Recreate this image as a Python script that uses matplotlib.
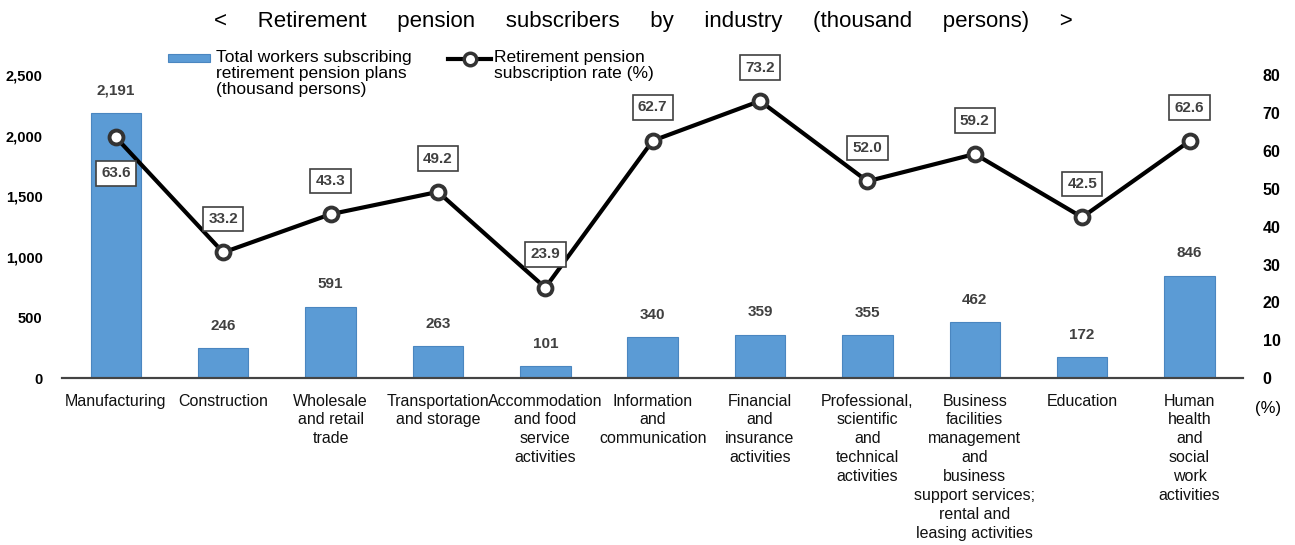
import matplotlib.pyplot as plt
from matplotlib.patches import Rectangle
from matplotlib.lines import Line2D
import numpy as np

plt.rcParams['font.family'] = ['Liberation Sans', 'DejaVu Sans']

# data
industries = [
    "Manufacturing", "Construction", "Wholesale\nand retail\ntrade",
    "Transportation\nand storage", "Accommodation\nand food\nservice\nactivities",
    "Information\nand\ncommunication", "Financial\nand\ninsurance\nactivities",
    "Professional,\nscientific\nand\ntechnical\nactivities",
    "Business\nfacilities\nmanagement\nand\nbusiness\nsupport services;\nrental and\nleasing activities",
    "Education", "Human\nhealth\nand\nsocial\nwork\nactivities",
]
subscribers = [2191, 246, 591, 263, 101, 340, 359, 355, 462, 172, 846]
sub_rate = [63.6, 33.2, 43.3, 49.2, 23.9, 62.7, 73.2, 52.0, 59.2, 42.5, 62.6]
left_ticks = [0, 500, 1000, 1500, 2000, 2500]
right_ticks = [0, 10, 20, 30, 40, 50, 60, 70, 80]

W, H = 1295, 545
fig = plt.figure(figsize=(W / 100, H / 100), dpi=100)
ax = fig.add_axes([0.048, 0.306, 0.912, 0.556])
ax2 = ax.twinx()

bar_col = '#5b9bd5'
x = np.arange(len(industries))
ax.bar(x, subscribers, width=0.47, color=bar_col, edgecolor='#4a86c0', linewidth=0.8, zorder=2)
for xi, v in zip(x, subscribers):
    ax.annotate(f"{v:,}", (xi, v), xytext=(0, 11), textcoords='offset points',
                ha='center', va='bottom', fontsize=11, fontweight='bold', color='#404040')

ax.set_xlim(-0.5, len(industries) - 0.5)
ax.set_ylim(0, 2500)
ax.set_yticks(left_ticks)
ax.set_yticklabels([f"{t:,}" for t in left_ticks], fontsize=10.5, fontweight='bold')
ax.set_xticks(x)
ax.set_xticklabels(industries, fontsize=11.5, color='#111111', linespacing=1.33)
ax.tick_params(axis='both', length=0)
ax.tick_params(axis='y', pad=14)
ax.tick_params(axis='x', pad=11)

ax2.plot(x, sub_rate, color='black', lw=3, marker='o', markersize=10,
         markerfacecolor='white', markeredgecolor='#333333', markeredgewidth=2.8, zorder=3)
for i, (xi, v) in enumerate(zip(x, sub_rate)):
    off = -26 if i == 0 else 24
    ax2.annotate(f"{v:.1f}", (xi, v), xytext=(0, off), textcoords='offset points',
                 ha='center', va='center', fontsize=11, fontweight='bold', color='#404040',
                 bbox=dict(boxstyle='square,pad=0.35', fc='white', ec='#404040', lw=1.2))

ax2.set_ylim(0, 80)
ax2.set_yticks(right_ticks)
ax2.set_yticklabels([str(t) for t in right_ticks], fontsize=11.5, fontweight='bold')
ax2.tick_params(axis='y', length=0, pad=14)
ax2.text(1.021, -0.1, "(%)", transform=ax.transAxes, fontsize=12, ha='center', va='center')

for a in (ax, ax2):
    for s in ('top', 'left', 'right'):
        a.spines[s].set_visible(False)
    a.spines['bottom'].set_color('#444444')
    a.spines['bottom'].set_linewidth(1.5)
ax.set_zorder(1)
ax2.set_zorder(2)
ax.patch.set_visible(False)

# legend drawn by hand so the keys sit level with the first text line
fig.patches.append(Rectangle((168 / W, 1 - 62 / H), 42 / W, 8 / H, transform=fig.transFigure,
                             facecolor=bar_col, edgecolor='#4a86c0', lw=0.8))
fig.text(216 / W, 1 - 50 / H, "Total workers subscribing\nretirement pension plans\n(thousand persons)",
         ha='left', va='top', fontsize=12.5, linespacing=1.08)
fig.lines.append(Line2D([448 / W, 491 / W], [1 - 59 / H] * 2, transform=fig.transFigure,
                        color='black', lw=3))
fig.lines.append(Line2D([470 / W], [1 - 59 / H], transform=fig.transFigure, marker='o',
                        markersize=9, markerfacecolor='white', markeredgecolor='#333333',
                        markeredgewidth=2.5))
fig.text(494 / W, 1 - 50 / H, "Retirement pension\nsubscription rate (%)",
         ha='left', va='top', fontsize=12.5, linespacing=1.08)

fig.text(0.497, 1 - 22 / H, "<     Retirement     pension     subscribers     by     industry     (thousand     persons)     >",
         ha='center', va='center', fontsize=16)

fig.savefig('out.png', dpi=100)
